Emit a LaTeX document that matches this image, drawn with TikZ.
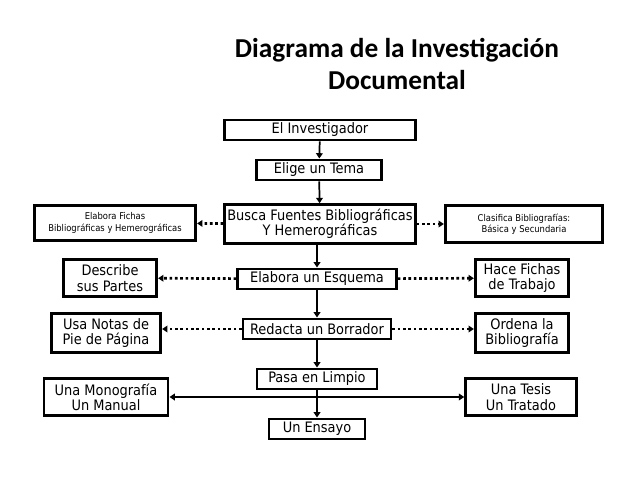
\documentclass[tikz,border=0pt]{standalone}
\usepackage{fontspec}
\setmainfont{DejaVu Sans Condensed}
\newfontfamily\titlefont{Carlito}
\usetikzlibrary{arrows.meta}
\begin{document}
\begin{tikzpicture}[x=0.75pt,y=-0.75pt,
  bx/.style={draw,line width=2.2pt,inner sep=1pt,align=center,font=\fontsize{10.8}{11.5}\selectfont,minimum height=15pt},
  sm/.style={bx,font=\fontsize{7}{8.5}\selectfont},
  arr/.style={line width=1.3pt,-{Triangle[length=4pt,width=5pt]}},
  dot/.style={line width=2pt,dotted,-{Triangle[length=4pt,width=5pt]}}]
\useasboundingbox (0,0) rectangle (638,479);
\node[font=\titlefont\bfseries\fontsize{20.5}{24}\selectfont,align=center] (t) at (397,64) {Diagrama de la Investigación\\Documental};
\node[bx,minimum width=143pt] (inv) at (320,130) {El Investigador};
\node[bx,minimum width=94pt] (tema) at (319,170) {Elige un Tema};
\node[bx,minimum width=143pt,minimum height=29pt] (busca) at (320,224) {Busca Fuentes Bibliográficas\\Y Hemerográficas};
\node[sm,minimum width=121pt,minimum height=26pt] (fichas) at (115,223) {Elabora Fichas\\Bibliográficas y Hemerográficas};
\node[sm,minimum width=118pt,minimum height=28pt] (clas) at (524,224) {Clasifica Bibliografías:\\Básica y Secundaria};
\node[bx,minimum width=119pt] (esq) at (317,279) {Elabora un Esquema};
\node[bx,minimum width=70pt,minimum height=28pt] (desc) at (110,278) {Describe\\sus Partes};
\node[bx,minimum width=70pt,minimum height=28pt] (hace) at (522,278) {Hace Fichas\\de Trabajo};
\node[bx,minimum width=111pt] (red) at (317,329) {Redacta un Borrador};
\node[bx,minimum width=82pt,minimum height=29pt] (usa) at (106,333) {Usa Notas de\\Pie de Página};
\node[bx,minimum width=70pt,minimum height=29pt] (ord) at (522,333) {Ordena la\\Bibliografía};
\node[bx,minimum width=90pt] (pasa) at (317,379) {Pasa en Limpio};
\node[bx,minimum width=93pt,minimum height=28pt] (mono) at (106,397) {Una Monografía\\Un Manual};
\node[bx,minimum width=83pt,minimum height=28pt] (tesis) at (521,397) {Una Tesis\\Un Tratado};
\node[bx,minimum width=72pt] (ens) at (317,429) {Un Ensayo};
\draw[arr] (inv) -- (tema);
\draw[arr] (tema) -- (busca);
\draw[arr] (busca.south -| esq) -- (esq);
\draw[arr] (esq) -- (red);
\draw[arr] (red) -- (pasa);
\draw[arr] (pasa) -- (ens);
\draw[dot] (busca) -- (fichas);
\draw[dot] (busca) -- (clas);
\draw[dot] (esq) -- (desc);
\draw[dot] (esq) -- (hace);
\draw[dot] (red) -- (usa.east |- red);
\draw[dot] (red) -- (ord.west |- red);
\coordinate (j) at (317,397);
\draw[arr] (j) -- (mono);
\draw[arr] (j) -- (tesis);
\end{tikzpicture}
\end{document}
